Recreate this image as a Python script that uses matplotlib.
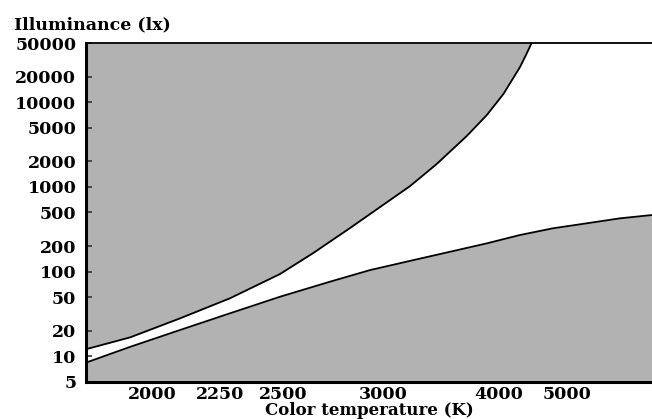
"""
Kruithof curve: illuminance vs. colour temperature.
"""

import matplotlib
matplotlib.use('Agg')
import matplotlib.pyplot as plt
import numpy as np


# upper boundary of the comfortable region (K, lx)
upper_temp = [1800, 1928, 2095, 2286, 2487, 2632, 2814, 2982, 3186, 3392, 3660, 3864,
              4052, 4263, 4346, 4424]
upper_lux = [12.1, 16.7, 28.0, 48.3, 93.5, 165, 326, 577, 1022, 1859, 3979, 7040,
             12470, 25970, 36280, 50000]

# lower boundary of the comfortable region (K, lx)
lower_temp = [1800, 1928, 2095, 2286, 2487, 2712, 2924, 3259, 3864, 4263, 4755, 5390,
              6211, 7270]
lower_lux = [8.4, 12.9, 20.4, 32.1, 50.4, 75.8, 104, 142, 215, 270, 324, 371, 425, 465]

x_ticks = [2000, 2250, 2500, 3000, 4000, 5000]
y_ticks = [5, 10, 20, 50, 100, 200, 500, 1000, 2000, 5000, 10000, 20000, 50000]

# the printed x axis is roughly reciprocal (mired) but not evenly spaced,
# so the scale is pinned to where the labels sit
anchor_temp = np.array([1800, 2000, 2250, 2500, 3000, 4000, 5000, 7270])
anchor_pos = np.array([0, 66.5, 134, 197, 297, 413, 481, 566]) / 566.0
anchor_mired = 1e6 / anchor_temp


def forward(t):
    t = np.asarray(t, dtype=float)
    m = 1e6 / np.where(t <= 0, 1e-9, t)
    return np.interp(-m, -anchor_mired, anchor_pos)


def inverse(p):
    m = np.interp(p, anchor_pos, anchor_mired)
    return 1e6 / m


GRAY = '#b2b2b2'
FONT = 'DejaVu Serif'
FS = 12.5

fig = plt.figure(figsize=(6.52, 4.19), dpi=100)
ax = fig.add_axes([86 / 652, 1 - 381.7 / 419, 1 - 86 / 652, (381.7 - 43) / 419])

ax.set_xscale('function', functions=(forward, inverse))
ax.set_yscale('log')
ax.set_xlim(1800, 7270)
ax.set_ylim(5, 50000)

ax.fill_between(upper_temp, upper_lux, 50000, color=GRAY, lw=0, zorder=1)
ax.fill_between(lower_temp, 5, lower_lux, color=GRAY, lw=0, zorder=1)
ax.plot(upper_temp, upper_lux, color='black', lw=1.3, zorder=2)
ax.plot(lower_temp, lower_lux, color='black', lw=1.3, zorder=2)

ax.set_xticks(x_ticks)
ax.set_xticklabels([str(v) for v in x_ticks])
ax.set_yticks(y_ticks)
ax.set_yticklabels([str(v) for v in y_ticks])
ax.minorticks_off()
ax.tick_params(axis='x', length=0, pad=3)
ax.tick_params(axis='y', direction='in', length=4, width=1.2, color='#333333', pad=7)
for lab in ax.get_xticklabels() + ax.get_yticklabels():
    lab.set_fontfamily(FONT)
    lab.set_fontweight('bold')
    lab.set_fontsize(FS)

ax.spines['right'].set_visible(False)
ax.spines['left'].set_linewidth(2.2)
ax.spines['bottom'].set_linewidth(2.2)
ax.spines['top'].set_linewidth(1.3)
for s in ax.spines.values():
    s.set_zorder(3)

ax.set_xlabel('Color temperature (K)', family=FONT, fontweight='bold', fontsize=12,
              va='center')
ax.xaxis.set_label_coords(0.5, (381.7 - 410.5) / 338.7)
fig.text(14 / 652, 1 - 25 / 419, 'Illuminance (lx)', family=FONT, fontweight='bold',
         fontsize=FS, va='center', ha='left')

fig.savefig('out.png', dpi=100)
